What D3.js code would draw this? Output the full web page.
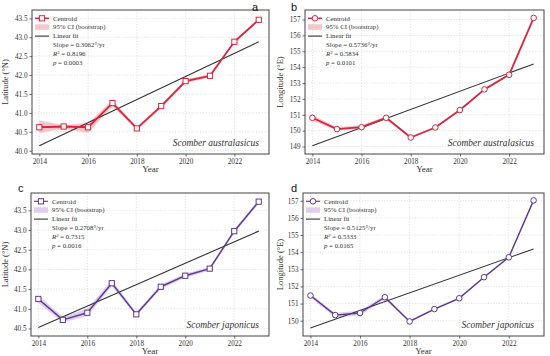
<!DOCTYPE html>
<meta charset="utf-8">
<head lang="en">
    <title></title>
    <script src="https://cdn.jsdelivr.net/npm/d3@7"></script>
    <style type="text/css">
        body { margin: 0; background: #fff; }
        svg { display: block; }
        .grid line { stroke: #cfcfcf; stroke-width: 0.6; stroke-dasharray: 1.2,1.6; }
        .axis path { display: none; }
        .axis line { stroke: #444; stroke-width: 0.8; }
        .frame { fill: none; stroke: #444; stroke-width: 1; }
        .fit { fill: none; stroke: #333; stroke-width: 1.1; }
    </style>
</head>
<body>
<script type="text/javascript">

    // years and centroid values
    var years = [2014, 2015, 2016, 2017, 2018, 2019, 2020, 2021, 2022, 2023];

    var latAus   = [40.62, 40.64, 40.62, 41.26, 40.59, 41.18, 41.84, 41.98, 42.88, 43.46];
    var latAusLo = [40.46, 40.58, 40.47, 41.18, 40.55, 41.13, 41.79, 41.94, 42.85, 43.43];
    var latAusHi = [40.80, 40.68, 40.73, 41.34, 40.63, 41.23, 41.89, 42.02, 42.91, 43.49];

    var lonAus   = [150.81, 150.10, 150.22, 150.81, 149.57, 150.20, 151.30, 152.60, 153.52, 157.10];
    var lonAusLo = [150.62, 150.03, 150.12, 150.74, 149.52, 150.15, 151.25, 152.55, 153.47, 157.05];
    var lonAusHi = [150.98, 150.22, 150.36, 150.90, 149.62, 150.25, 151.35, 152.65, 153.57, 157.15];

    var latJap   = [41.25, 40.72, 40.90, 41.65, 40.86, 41.56, 41.84, 42.02, 42.97, 43.72];
    var latJapLo = [41.15, 40.65, 40.82, 41.57, 40.81, 41.50, 41.79, 41.97, 42.92, 43.67];
    var latJapHi = [41.34, 40.80, 41.00, 41.73, 40.91, 41.62, 41.89, 42.07, 43.02, 43.77];

    var lonJap   = [151.47, 150.33, 150.45, 151.37, 149.96, 150.68, 151.31, 152.54, 153.70, 157.02];
    var lonJapLo = [151.35, 150.20, 150.30, 151.25, 149.90, 150.62, 151.25, 152.48, 153.64, 156.96];
    var lonJapHi = [151.57, 150.45, 150.60, 151.47, 150.02, 150.74, 151.37, 152.60, 153.76, 157.08];

    // statistics printed in the legends (a, b, c, d)
    var slopes = ["0.3062", "0.5736", "0.2708", "0.5125"];
    var r2s    = ["0.8196", "0.5834", "0.7315", "0.5333"];
    var pvals  = ["0.0003", "0.0101", "0.0016", "0.0165"];

    var xTicks = [2014, 2016, 2018, 2020, 2022];
    var latTicksA = [40.0, 40.5, 41.0, 41.5, 42.0, 42.5, 43.0, 43.5];
    var lonTicksB = [149, 150, 151, 152, 153, 154, 155, 156, 157];
    var latTicksC = [40.5, 41.0, 41.5, 42.0, 42.5, 43.0, 43.5];
    var lonTicksD = [150, 151, 152, 153, 154, 155, 156, 157];

    var width = 550;
    var height = 356;
    var serif = '"Liberation Serif", "Times New Roman", "DejaVu Serif", serif';
    var ink = "#333";

    var svg = d3.select("body")
        .append("svg")
        .attr("width", width)
        .attr("height", height);

    var red = "#d7263d", redBand = "#f3b3ba";
    var purple = "#5b3a8e", purpleBand = "#d4bdea";

    var panels = [
        {letter: "a", ox: 0, oy: 0, left: 32, top: 10, right: 269, bottom: 154,
         vals: latAus, lo: latAusLo, hi: latAusHi, yDomain: [39.913, 43.72], ticks: latTicksA,
         fmt: d3.format(".1f"), ylabel: "Latitude (°N)", species: "Scomber australasicus",
         color: red, band: redBand, marker: "square", lw: 1.8, lx: 252},
        {letter: "b", ox: 275, oy: 0, left: 30, top: 10, right: 269, bottom: 154,
         vals: lonAus, lo: lonAusLo, hi: lonAusHi, yDomain: [148.53, 157.6], ticks: lonTicksB,
         fmt: d3.format("d"), ylabel: "Longitude (°E)", species: "Scomber australasicus",
         color: red, band: redBand, marker: "circle", lw: 1.8, lx: 16},
        {letter: "c", ox: 0, oy: 178, left: 31, top: 15, right: 269, bottom: 158,
         vals: latJap, lo: latJapLo, hi: latJapHi, yDomain: [40.31, 43.94], ticks: latTicksC,
         fmt: d3.format(".1f"), ylabel: "Latitude (°N)", species: "Scomber japonicus",
         color: purple, band: purpleBand, marker: "square", lw: 1.4, lx: 18},
        {letter: "d", ox: 275, oy: 178, left: 28, top: 15, right: 269, bottom: 158,
         vals: lonJap, lo: lonJapLo, hi: lonJapHi, yDomain: [149.11, 157.45], ticks: lonTicksD,
         fmt: d3.format("d"), ylabel: "Longitude (°E)", species: "Scomber japonicus",
         color: purple, band: purpleBand, marker: "circle", lw: 1.4, lx: 16}
    ];

    panels.forEach(function (p, k) {
        var g = svg.append("g")
            .attr("transform", "translate(" + p.ox + "," + p.oy + ")");

        var x = d3.scaleLinear().domain([2013.70, 2023.42]).range([p.left, p.right]);
        var y = d3.scaleLinear().domain(p.yDomain).range([p.bottom, p.top]);

        // dotted grid
        g.append("g").attr("class", "grid")
            .selectAll("line").data(xTicks).enter().append("line")
            .attr("x1", function (d) { return x(d); })
            .attr("x2", function (d) { return x(d); })
            .attr("y1", p.top).attr("y2", p.bottom);
        g.append("g").attr("class", "grid")
            .selectAll("line").data(p.ticks).enter().append("line")
            .attr("y1", function (d) { return y(d); })
            .attr("y2", function (d) { return y(d); })
            .attr("x1", p.left).attr("x2", p.right);

        // axes
        var xa = g.append("g").attr("class", "axis")
            .attr("transform", "translate(0," + p.bottom + ")")
            .call(d3.axisBottom(x).tickValues(xTicks).tickFormat(d3.format("d"))
                .tickSize(2.5).tickPadding(2.5));
        var ya = g.append("g").attr("class", "axis")
            .attr("transform", "translate(" + p.left + ",0)")
            .call(d3.axisLeft(y).tickValues(p.ticks).tickFormat(p.fmt)
                .tickSize(2.5).tickPadding(2));
        [xa, ya].forEach(function (ax) {
            ax.attr("font-family", serif).attr("font-size", 7.2);
            ax.selectAll("text").attr("fill", ink);
        });

        // bootstrap CI band
        var idx = d3.range(years.length);
        var area = d3.area()
            .x(function (i) { return x(years[i]); })
            .y0(function (i) { return y(p.lo[i]); })
            .y1(function (i) { return y(p.hi[i]); });
        g.append("path")
            .datum(idx)
            .attr("d", area)
            .attr("fill", p.band)
            .attr("opacity", 0.75);

        // least squares fit from the centroid values
        var mx = d3.mean(years), my = d3.mean(p.vals);
        var sxy = d3.sum(idx, function (i) { return (years[i] - mx) * (p.vals[i] - my); });
        var sxx = d3.sum(idx, function (i) { return (years[i] - mx) * (years[i] - mx); });
        var b = sxy / sxx, a0 = my - b * mx;
        var ends = [years[0], years[years.length - 1]];
        g.append("path")
            .datum(ends)
            .attr("class", "fit")
            .attr("d", d3.line()
                .x(function (d) { return x(d); })
                .y(function (d) { return y(a0 + b * d); }));

        // centroid line + markers
        g.append("path")
            .datum(idx)
            .attr("fill", "none")
            .attr("stroke", p.color)
            .attr("stroke-width", p.lw)
            .attr("stroke-linejoin", "round")
            .attr("d", d3.line()
                .x(function (i) { return x(years[i]); })
                .y(function (i) { return y(p.vals[i]); }));

        function marker(sel) {
            if (p.marker === "square") {
                sel.append("rect")
                    .attr("x", -2.6).attr("y", -2.6)
                    .attr("width", 5.2).attr("height", 5.2)
                    .attr("fill", "#fff").attr("stroke", p.color).attr("stroke-width", 1);
            } else {
                sel.append("circle")
                    .attr("r", 2.8)
                    .attr("fill", "#fff").attr("stroke", p.color).attr("stroke-width", 1);
            }
        }
        g.selectAll(".mk").data(idx).enter().append("g")
            .attr("class", "mk")
            .attr("transform", function (i) {
                return "translate(" + x(years[i]) + "," + y(p.vals[i]) + ")";
            })
            .each(function () { marker(d3.select(this)); });

        // frame
        g.append("rect").attr("class", "frame")
            .attr("x", p.left).attr("y", p.top)
            .attr("width", p.right - p.left).attr("height", p.bottom - p.top);

        // legend
        var lg = g.append("g")
            .attr("font-family", serif)
            .attr("font-size", 6.8)
            .attr("fill", ink)
            .attr("transform", "translate(" + (p.left + 2) + "," + (p.top + 8.3) + ")");
        lg.append("line").attr("x1", 1).attr("x2", 15).attr("y1", 0).attr("y2", 0)
            .attr("stroke", p.color).attr("stroke-width", p.lw * 0.8);
        lg.append("g").attr("transform", "translate(8,0)").each(function () { marker(d3.select(this)); });
        lg.append("rect").attr("x", 1).attr("y", 6).attr("width", 14).attr("height", 5.5)
            .attr("fill", p.band).attr("opacity", 0.75);
        lg.append("line").attr("x1", 1).attr("x2", 15).attr("y1", 17.8).attr("y2", 17.8)
            .attr("stroke", "#333").attr("stroke-width", 1.1);
        var tx = 19;
        lg.append("text").attr("x", tx).attr("y", 2.3).text("Centroid");
        lg.append("text").attr("x", tx).attr("y", 11.2).text("95% CI (bootstrap)");
        lg.append("text").attr("x", tx).attr("y", 20.1).text("Linear fit");
        lg.append("text").attr("x", tx).attr("y", 29).text("Slope = " + slopes[k] + "°/yr");
        var r2 = lg.append("text").attr("x", tx).attr("y", 37.9);
        r2.append("tspan").attr("font-style", "italic").text("R");
        r2.append("tspan").attr("dy", -2.5).attr("font-size", 4.8).text("2");
        r2.append("tspan").attr("dy", 2.5).text(" = " + r2s[k]);
        var pt = lg.append("text").attr("x", tx).attr("y", 46.8);
        pt.append("tspan").attr("font-style", "italic").text("p");
        pt.append("tspan").text(" = " + pvals[k]);

        // species name
        g.append("text")
            .attr("x", p.right - 10)
            .attr("y", p.bottom - 8)
            .attr("text-anchor", "end")
            .attr("font-family", serif)
            .attr("font-style", "italic")
            .attr("font-size", 9.5)
            .attr("fill", ink)
            .text(p.species);

        // axis titles
        g.append("text")
            .attr("x", (p.left + p.right) / 2)
            .attr("y", p.bottom + 17.5)
            .attr("text-anchor", "middle")
            .attr("font-family", serif)
            .attr("font-size", 9)
            .attr("fill", ink)
            .text("Year");
        g.append("text")
            .attr("transform", "translate(8," + ((p.top + p.bottom) / 2) + ") rotate(-90)")
            .attr("text-anchor", "middle")
            .attr("font-family", serif)
            .attr("font-size", 8.5)
            .attr("fill", ink)
            .text(p.ylabel);

        // panel letter
        g.append("text")
            .attr("x", p.lx)
            .attr("y", p.oy === 0 ? 10.5 : p.top - 1)
            .attr("font-family", '"Liberation Sans", Arial, sans-serif')
            .attr("font-size", 11)
            .attr("fill", "#111")
            .text(p.letter);
    });

</script>
</body>
